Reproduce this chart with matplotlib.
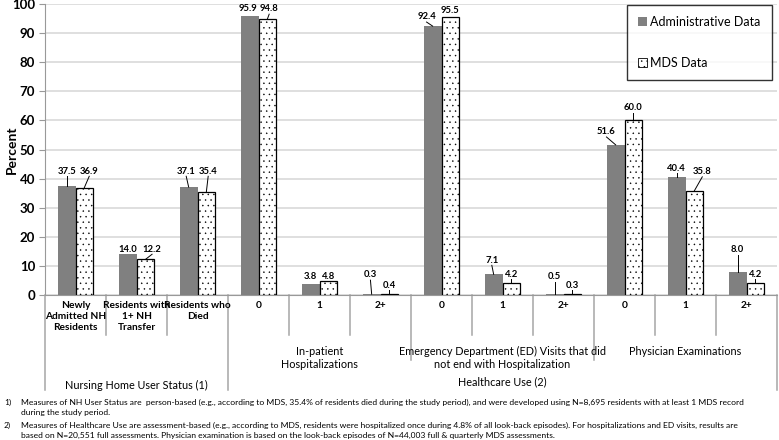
import matplotlib
matplotlib.use("Agg")
import matplotlib.pyplot as plt
import matplotlib.transforms as mtransforms
from matplotlib.patches import Patch
import numpy as np

plt.rcParams['font.family'] = ['Lato', 'DejaVu Sans']
plt.rcParams['hatch.linewidth'] = 0.3

# data
categories = ["Newly\nAdmitted NH\nResidents", "Residents with\n1+ NH\nTransfer", "Residents who\nDied",
              "0", "1", "2+",
              "0", "1", "2+",
              "0", "1", "2+"]
admin = [37.5, 14.0, 37.1, 95.9, 3.8, 0.3, 92.4, 7.1, 0.5, 51.6, 40.4, 8.0]
mds = [36.9, 12.2, 35.4, 94.8, 4.8, 0.4, 95.5, 4.2, 0.3, 60.0, 35.8, 4.2]
subgroups = ["In-patient\nHospitalizations",
             "Emergency Department (ED) Visits that did\nnot end with Hospitalization",
             "Physician Examinations"]
groups = ["Nursing Home User Status (1)", "Healthcare Use (2)"]
footnotes = [
    ("1)", "Measures of NH User Status are  person-based (e.g., according to MDS, 35.4% of residents died during the study period), and were developed using N=8,695 residents with at least 1 MDS record\nduring the study period."),
    ("2)", "Measures of Healthcare Use are assessment-based (e.g., according to MDS, residents were hospitalized once during 4.8% of all look-back episodes). For hospitalizations and ED visits, results are\nbased on N=20,551 full assessments. Physician examination is based on the look-back episodes of N=44,003 full & quarterly MDS assessments."),
]

# label placement (x shift in category units, label centre height)
admin_lab_dx = [0, 0, -0.04, -0.03, 0, -0.02, -0.1, -0.03, 0, -0.15, 0, 0]
admin_lab_y = [42.6, 15.8, 42.6, 98.3, 6.2, 6.9, 95.6, 12.0, 6.3, 56.1, 43.6, 15.5]
mds_lab_dx = [0.08, 0.11, 0.03, 0.03, 0, 0, 0, 0, 0, 0, 0.13, 0]
mds_lab_y = [42.6, 15.8, 42.6, 98.3, 6.2, 3.4, 97.7, 7.2, 3.4, 64.3, 42.4, 7.2]

W, H = 779, 440
fig = plt.figure(figsize=(W / 100, H / 100), dpi=100)
ax = fig.add_axes([45 / W, 1 - 295 / H, 732 / W, 291 / H])

x = np.arange(len(categories))
bw = 0.29
ax.bar(x - bw / 2, admin, bw, color='#808080', zorder=3)
ax.bar(x + bw / 2, mds, bw, color='white', edgecolor='black', linewidth=0.9,
       hatch='...', zorder=3)

ax.set_xlim(-0.5, len(categories) - 0.5)
ax.set_ylim(0, 100)
ax.set_yticks(range(0, 101, 10))
ax.set_xticks([])
ax.yaxis.grid(True, color='#d9d9d9', linewidth=1.2, zorder=0)
ax.set_axisbelow(True)
for s in ['top', 'right']:
    ax.spines[s].set_visible(False)
ax.spines['left'].set_color('#999999')
ax.spines['bottom'].set_color('#999999')
ax.tick_params(axis='y', length=4, color='#999999', labelsize=9.5, pad=3)
for t in ax.get_yticklabels():
    t.set_fontweight('bold')
ax.set_ylabel('Percent', fontsize=10, fontweight='bold')
ax.yaxis.set_label_coords(-27 / 732, 0.5)


def put_label(xb, val, dx, ly):
    ax.text(xb + dx, ly, f"{val:.1f}", ha='center', va='center', fontsize=6.8,
            fontweight='bold', zorder=5)
    if ly - 1.8 - val > 1.0:
        ax.plot([xb, xb + dx], [val, ly - 1.8], color='black', linewidth=0.7, zorder=4)


for i in range(len(categories)):
    put_label(x[i] - bw / 2, admin[i], admin_lab_dx[i], admin_lab_y[i])
    put_label(x[i] + bw / 2, mds[i], mds_lab_dx[i], mds_lab_y[i])

# category axis below plot
tr = mtransforms.blended_transform_factory(ax.transData, fig.transFigure)


def fy(py):
    return 1 - py / H


sep_col = '#a6a6a6'
for b in np.arange(-0.5, len(categories), 1.0):
    if b in (-0.5, 2.5, 11.5):
        bottom = 390
    elif b in (5.5, 8.5):
        bottom = 360
    else:
        bottom = 335
    ax.plot([b, b], [fy(295), fy(bottom)], color=sep_col, linewidth=1.1,
            transform=tr, clip_on=False)

for i, c in enumerate(categories):
    ax.text(x[i], fy(301), c, transform=tr, ha='center', va='top', fontsize=7.3,
            fontweight='bold', linespacing=1.25)

for j, g in enumerate(subgroups):
    ax.text(4 + 3 * j, fy(346), g, transform=tr, ha='center', va='top', fontsize=7.8,
            linespacing=1.2)

ax.text(1, fy(385), groups[0], transform=tr, ha='center', va='center', fontsize=7.8)
ax.text(7, fy(382), groups[1], transform=tr, ha='center', va='center', fontsize=7.8)

# footnotes
fy0 = [399, 422]
for (num, body), y0 in zip(footnotes, fy0):
    fig.text(4 / W, fy(y0), num, ha='left', va='top', fontsize=6.1)
    fig.text(21 / W, fy(y0), body, ha='left', va='top', fontsize=6.1,
             linespacing=1.45)

# legend
handles = [Patch(facecolor='#808080', edgecolor='none', label='Administrative Data'),
           Patch(facecolor='white', edgecolor='black', hatch='...', linewidth=0.6,
                 label='MDS Data')]
leg = ax.legend(handles=handles, loc='upper right', bbox_to_anchor=(0.993, 0.997),
                fontsize=9, labelspacing=2.3, handlelength=0.7, handleheight=0.7,
                handletextpad=0.3, borderpad=0.9, borderaxespad=0, frameon=True,
                fancybox=False, edgecolor='black')
leg.get_frame().set_linewidth(1.0)

fig.savefig('out.png', dpi=100)
